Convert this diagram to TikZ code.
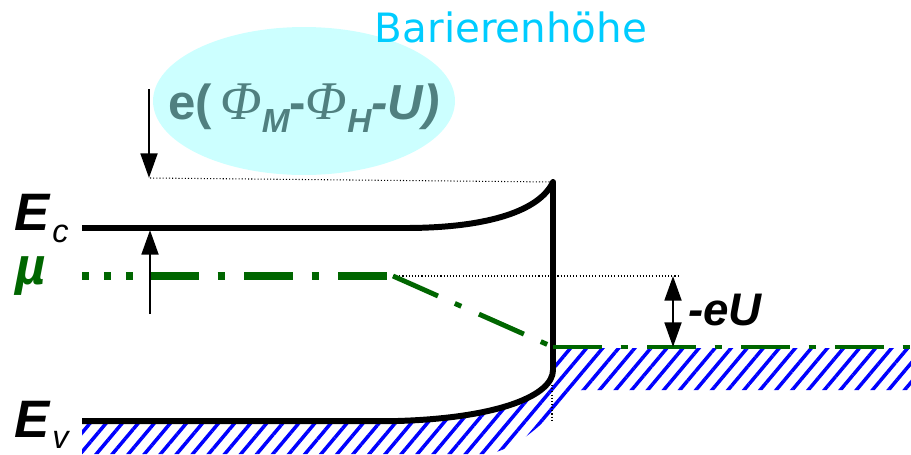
\documentclass[tikz,border=0pt]{standalone}
\usepackage{fontspec}
\setmainfont{Liberation Sans}
\newfontfamily\phifont{Liberation Serif}
\newfontfamily\titlefont{DejaVu Sans}
\usetikzlibrary{arrows.meta,patterns.meta,shapes.geometric}
\definecolor{fermigreen}{RGB}{0,102,0}
\definecolor{hatchblue}{RGB}{0,0,255}
\definecolor{cloudfill}{RGB}{204,255,255}
\definecolor{labteal}{RGB}{80,128,128}
\definecolor{titlecyan}{RGB}{0,204,255}

\begin{document}
\begin{tikzpicture}[
    x=0.02cm, y=-0.02cm,
    band/.style={line width=3.4pt, line join=round},
    fermi/.style={draw=fermigreen, line width=2.8pt, dash pattern=on 28pt off 10.5pt on 4pt off 11pt},
    guide/.style={line width=0.6pt, dash pattern=on 0.6pt off 1.2pt},
    arrow/.style={line width=1.6pt, -{Triangle[length=14pt,width=9.5pt]}},
    dblarrow/.style={line width=1.6pt, {Triangle[length=14pt,width=9.5pt]}-{Triangle[length=14pt,width=9.5pt]}},
    level/.style={font=\fontsize{30}{30}\selectfont\bfseries\itshape, inner sep=0pt, anchor=base west},
    sub/.style={font=\fontsize{18.5}{18.5}\selectfont\itshape, inner sep=0pt, anchor=base west}
]
\useasboundingbox (0,0) rectangle (911,454);

\node[ellipse, fill=cloudfill, minimum width=6.04cm, minimum height=2.96cm, inner sep=0pt] (cloud) at (304,101) {};
\node[font=\titlefont\fontsize{23}{23}\selectfont, text=titlecyan, anchor=base, inner sep=0pt] (title) at (511,42) {Barierenhöhe};
\node[font=\fontsize{28}{28}\selectfont\bfseries, text=labteal, anchor=base west, inner sep=0pt] (height) at (168,119)
    {e(\,{\phifont\mdseries\itshape\fontsize{31}{31}\selectfont Φ}\raisebox{-7.5pt}{\fontsize{19}{19}\selectfont\itshape M}-{\phifont\mdseries\itshape\fontsize{31}{31}\selectfont Φ}\raisebox{-7.5pt}{\fontsize{19}{19}\selectfont\itshape H}\itshape -U)};

\fill[pattern={Lines[angle=50,distance=7pt,line width=2pt]}, pattern color=hatchblue]
    (82,423) -- (397,423) .. controls (500,420) and (553,395) .. (553,370) -- (553,348) -- (911,348)
    -- (911,390) -- (582,390) .. controls (560,396) and (540,440) .. (490,454) -- (82,454) -- cycle;

\coordinate (spike) at (553,182);
\coordinate (cbleft) at (82,228);
\coordinate (cbbend) at (405,228);
\coordinate (vbbend) at (397,421);
\coordinate (vbleft) at (82,421);
\coordinate (wallfoot) at (553,370);
\coordinate (barriertop) at (150,178);
\coordinate (mubend) at (393,276);
\coordinate (mumetal) at (553,347);
\coordinate (muright) at (911,347);
\coordinate (muleft) at (82,276);
\coordinate (mudash) at (150,276);
\coordinate (shiftend) at (678,276);

\draw[guide] (barriertop) -- (spike);
\draw[guide] (mubend) -- (shiftend);
\draw[guide] (552,385) -- (552,420);

\draw[band] (cbleft) -- (cbbend) .. controls (490,228) and (540,210) .. (spike) -- (wallfoot)
    .. controls (553,395) and (500,418) .. (vbbend) -- (vbleft);

\draw[fermi, line width=4pt, dash pattern=on 4pt off 8.5pt] (muleft) -- (140,276);
\draw[fermi, line width=4pt] (mudash) -- (mubend);
\draw[fermi] (mubend) -- (mumetal);
\draw[fermi] (mumetal) -- (muright);

\coordinate (downstart) at (149,89);
\coordinate (downend) at (149,178);
\coordinate (upstart) at (150,314);
\coordinate (upend) at (150,230);
\coordinate (eutop) at (673,276);
\coordinate (eubottom) at (673,347);
\draw[arrow] (downstart) -- (downend);
\draw[arrow] (upstart) -- (upend);
\draw[dblarrow] (eutop) -- (eubottom);

\node[level] (Ec) at (14,230) {E};
\node[sub] (Ecsub) at (52,242) {c};
\node[level, text=fermigreen] (mu) at (15,284) {µ};
\node[level] (Ev) at (14,437) {E};
\node[sub] (Evsub) at (52,448) {v};
\node[font=\fontsize{26}{26}\selectfont\bfseries\itshape, anchor=base west, inner sep=0pt] (eU) at (688,325) {-eU};
\end{tikzpicture}
\end{document}
